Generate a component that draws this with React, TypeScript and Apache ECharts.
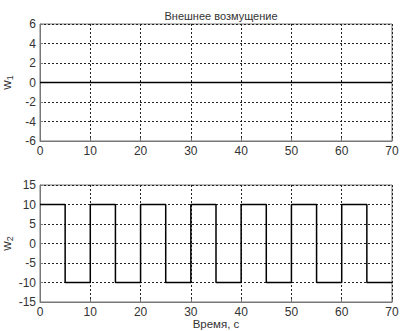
import React, { useEffect, useRef } from "react";
import * as echarts from "echarts";

const xTicks = [0, 10, 20, 30, 40, 50, 60, 70];
const w1Times = [0, 70];
const w1Values = [0, 0];
const w2Times = [0, 5, 10, 15, 20, 25, 30, 35, 40, 45, 50, 55, 60, 65, 70];
const w2Values = [10, -10, 10, -10, 10, -10, 10, -10, 10, -10, 10, -10, 10, -10, -10];

const titleText = "Внешнее возмущение";
const xName = "Время, с";

export default function App() {
  const ref = useRef<HTMLDivElement>(null);
  useEffect(() => {
    if (!ref.current) return;
    const chart = echarts.init(ref.current, null, { renderer: "svg" });
    const font = "Liberation Sans, Arial, sans-serif";
    const textColor = "#333";
    const mkX = (idx: number, withName: boolean) => ({
      type: "value",
      gridIndex: idx,
      min: xTicks[0],
      max: xTicks[xTicks.length - 1],
      interval: 10,
      name: withName ? xName : "",
      nameLocation: "middle",
      nameGap: 16,
      nameMoveOverlap: false,
      nameTextStyle: { color: textColor, fontSize: 11.5, fontFamily: font },
      axisLine: { show: true, onZero: false, lineStyle: { color: "#777" } },
      axisTick: { show: true, inside: true, length: 3, lineStyle: { color: "#777" } },
      axisLabel: { color: textColor, fontSize: 12, fontFamily: font, margin: 4 },
      splitLine: { show: true, lineStyle: { color: "#222", type: [2, 2], width: 1 } },
    });
    const mkY = (idx: number, min: number, max: number, interval: number, sub: string) => ({
      type: "value",
      gridIndex: idx,
      min,
      max,
      interval,
      name: "{a|w}{b|" + sub + "}",
      nameLocation: "middle",
      nameGap: 26,
      nameRotate: 90,
      nameMoveOverlap: false,
      nameTextStyle: {
        color: textColor,
        fontFamily: font,
        rich: {
          a: { fontSize: 13, color: textColor, fontFamily: font },
          b: { fontSize: 9, color: textColor, fontFamily: font, padding: [7, 0, 0, 0] },
        },
      },
      axisLine: { show: true, onZero: false, lineStyle: { color: "#777" } },
      axisTick: { show: true, inside: true, length: 3, lineStyle: { color: "#777" } },
      axisLabel: { color: textColor, fontSize: 12, fontFamily: font, margin: 4 },
      splitLine: { show: true, lineStyle: { color: "#222", type: [2, 2], width: 1 } },
    });
    chart.setOption({
      animation: false,
      backgroundColor: "#fff",
      title: {
        text: titleText,
        left: 216,
        textAlign: "center",
        top: 5,
        textStyle: { fontSize: 11, fontWeight: "normal", color: "#333", fontFamily: font },
      },
      grid: [
        { left: 40, right: 8, top: 24, height: 117, show: true, borderColor: "#777", borderWidth: 1, backgroundColor: "transparent", containLabel: false, outerBoundsMode: "none" },
        { left: 40, right: 8, top: 185, height: 117, show: true, borderColor: "#777", borderWidth: 1, backgroundColor: "transparent", containLabel: false, outerBoundsMode: "none" },
      ],
      xAxis: [mkX(0, false), mkX(1, true)],
      yAxis: [mkY(0, -6, 6, 2, "1"), mkY(1, -15, 15, 5, "2")],
      series: [
        {
          type: "line",
          xAxisIndex: 0,
          yAxisIndex: 0,
          data: w1Times.map((t, i) => [t, w1Values[i]]),
          showSymbol: false,
          lineStyle: { color: "#000", width: 1.5 },
        },
        {
          type: "line",
          xAxisIndex: 1,
          yAxisIndex: 1,
          step: "end",
          data: w2Times.map((t, i) => [t, w2Values[i]]),
          showSymbol: false,
          lineStyle: { color: "#000", width: 1.5 },
        },
      ],
    });
    return () => chart.dispose();
  }, []);
  return <div ref={ref} style={{ width: 400, height: 331, position: "absolute", left: 0, top: 0 }} />;
}
